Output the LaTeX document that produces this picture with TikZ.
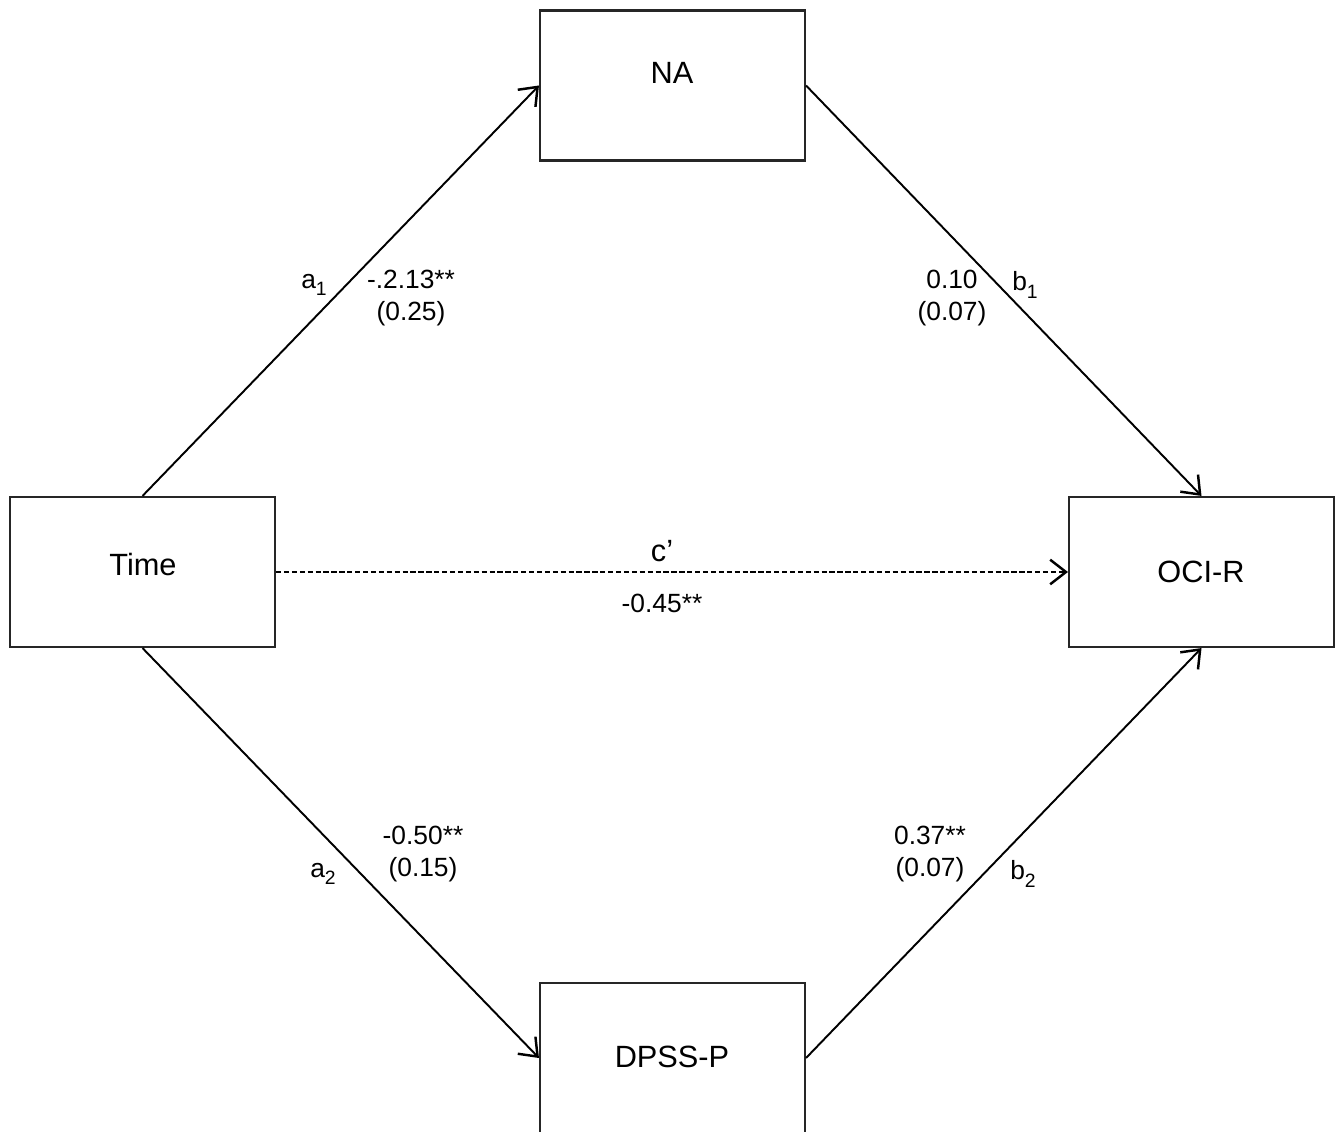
\documentclass[tikz,border=0pt]{standalone}
\usepackage{fontspec}
\setmainfont{Liberation Sans}
\usetikzlibrary{arrows.meta}
\newcommand{\subidx}[1]{\raisebox{-0.55ex}{\fontsize{11}{12}\selectfont #1}}
\begin{document}
\begin{tikzpicture}[x=0.02cm,y=-0.02cm,
  varbox/.style={draw=black!85,line width=1.2pt,minimum width=5.3cm,minimum height=3cm,inner sep=0pt,fill=white},
  boxtext/.style={font=\fontsize{17.5}{20}\selectfont,inner sep=0pt},
  path/.style={line width=1.1pt,-{Straight Barb[length=9pt,width=14pt,line width=1.4pt]}},
  lab/.style={font=\fontsize{15}{17}\selectfont,align=center,inner sep=0pt}]
\useasboundingbox (0,0) rectangle (1342,1132);
\clip (0,0) rectangle (1342,1132);
\node[varbox] (NA) at (672.5,85.5) {};
\node[varbox] (T) at (142.5,572) {};
\node[varbox] (O) at (1201.5,572) {};
\node[varbox] (D) at (672.5,1058) {};
\node[boxtext] (tNA) at (672,73) {NA};
\node[boxtext] (tT) at (143,565) {Time};
\node[boxtext] (tO) at (1201,572) {OCI-R};
\node[boxtext] (tD) at (672,1057) {DPSS-P};
\draw[path] (T.north) -- (NA.west);
\draw[path] (NA.east) -- (O.north);
\draw[path] (T.south) -- (D.west);
\draw[path] (D.east) -- (O.south);
\draw[path,dashed,dash pattern=on 3pt off 1.5pt] (T.east) -- (O.west);
\node[lab] (la1) at (314,285) {a\subidx{1}};
\node[lab] (la1v) at (411,298) {-.2.13**\\[1pt](0.25)};
\node[lab] (lb1v) at (952,298) {0.10\\[1pt](0.07)};
\node[lab] (lb1) at (1025,285) {b\subidx{1}};
\node[lab,font=\fontsize{17.5}{20}\selectfont] (lc) at (662,551) {c’};
\node[lab] (lcv) at (662,603) {-0.45**};
\node[lab] (la2) at (323,874) {a\subidx{2}};
\node[lab] (la2v) at (423,854) {-0.50**\\[1pt](0.15)};
\node[lab] (lb2v) at (930,854) {0.37**\\[1pt](0.07)};
\node[lab] (lb2) at (1023,874) {b\subidx{2}};
\end{tikzpicture}
\end{document}
